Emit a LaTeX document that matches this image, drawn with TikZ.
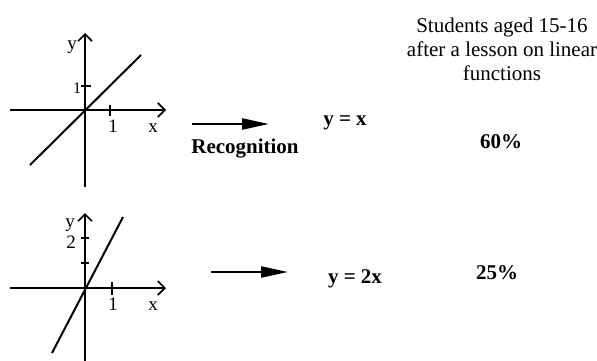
\documentclass[tikz,border=0pt]{standalone}
\usepackage{fontspec}
\setmainfont{Liberation Serif}
\usetikzlibrary{arrows.meta}
\begin{document}
\begin{tikzpicture}[x=1pt,y=-1pt,
  axis/.style={line width=1.8pt,-{Straight Barb[length=7pt,width=14pt,line width=1.7pt]}},
  plain/.style={line width=1.8pt},
  graphline/.style={line width=2pt},
  tick/.style={line width=1.8pt},
  bigarrow/.style={line width=2.4pt,-{Triangle[length=27pt,width=11pt]}},
  lbl/.style={inner sep=0pt,anchor=base,font=\fontsize{19}{22}\selectfont},
  smalllbl/.style={inner sep=0pt,anchor=base,font=\fontsize{16}{19}\selectfont},
  txt/.style={inner sep=0pt,anchor=base,font=\fontsize{21}{24}\selectfont},
  btxt/.style={inner sep=0pt,anchor=base,font=\fontsize{21}{24}\selectfont\bfseries}]
\useasboundingbox (0,0) rectangle (597,361);
% ---------- graph 1 : y = x ----------
\coordinate (o1) at (85,110);
\coordinate (x1l) at (10,110);
\coordinate (x1r) at (166,110);
\coordinate (y1t) at (85,33);
\coordinate (y1b) at (85,187);
\draw[axis] (x1l) -- (x1r);
\draw[axis] (y1b) -- (y1t);
\coordinate (l1a) at (30,165);
\coordinate (l1b) at (141,55);
\draw[graphline] (l1a) -- (l1b);
\coordinate (t1a) at (110,105); \coordinate (t1b) at (110,116);
\draw[tick] (t1a) -- (t1b);
\coordinate (t2a) at (81,86); \coordinate (t2b) at (91,86);
\draw[tick] (t2a) -- (t2b);
\node[lbl] (g1x1) at (113,132) {1};
\node[lbl] (g1x) at (153,132) {x};
\node[lbl] (g1y) at (72,50) {y};
\node[smalllbl] (g1y1) at (77,93) {1};
% ---------- graph 2 : y = 2x ----------
\coordinate (o2) at (85,288);
\coordinate (x2l) at (10,288);
\coordinate (x2r) at (166,288);
\coordinate (y2t) at (85,213);
\coordinate (y2b) at (85,361);
\draw[axis] (x2l) -- (x2r);
\draw[axis] (y2b) -- (y2t);
\coordinate (l2a) at (52,353);
\coordinate (l2b) at (123,217);
\draw[graphline] (l2a) -- (l2b);
\coordinate (t3a) at (112,282); \coordinate (t3b) at (112,295);
\draw[tick] (t3a) -- (t3b);
\coordinate (t4a) at (81,263); \coordinate (t4b) at (89,263);
\draw[tick] (t4a) -- (t4b);
\coordinate (t5a) at (81,238); \coordinate (t5b) at (89,238);
\draw[tick] (t5a) -- (t5b);
\node[lbl] (g2x1) at (113,310) {1};
\node[lbl] (g2x) at (153,310) {x};
\node[lbl] (g2y) at (70,227) {y};
\node[lbl] (g2y2) at (71,248) {2};
% ---------- arrows and equations ----------
\coordinate (a1s) at (192,124);
\coordinate (a1e) at (269,124);
\draw[bigarrow] (a1s) -- (a1e);
\node[btxt] (rec) at (245,153) {Recognition};
\node[btxt] (eq1) at (345,125) {y = x};
\coordinate (a2s) at (211,272);
\coordinate (a2e) at (288,272);
\draw[bigarrow] (a2s) -- (a2e);
\node[btxt] (eq2) at (355,283) {y = 2x};
% ---------- right column ----------
\node[txt,anchor=north,align=center] (head) at (502,17.5)
  {Students aged 15-16\\after a lesson on linear\\functions};
\node[btxt] (p1) at (501,148) {60\%};
\node[btxt] (p2) at (497,279) {25\%};
\end{tikzpicture}
\end{document}
